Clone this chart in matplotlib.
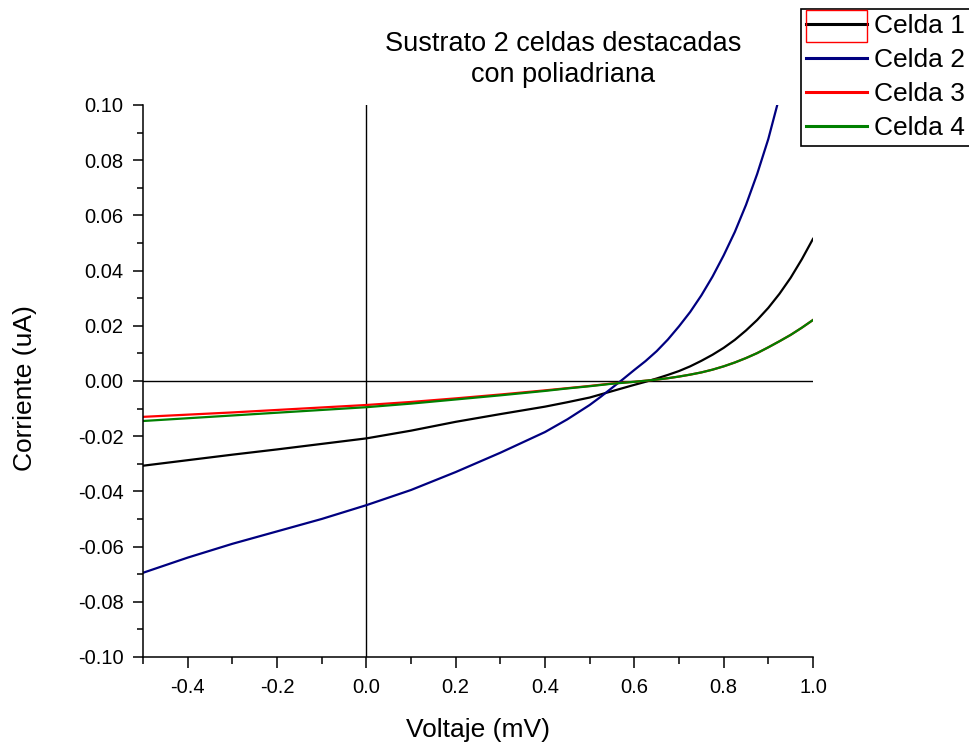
import matplotlib.pyplot as plt
from matplotlib.patches import Rectangle
from matplotlib.ticker import MultipleLocator, FuncFormatter

plt.rcParams['font.family'] = ['Liberation Sans', 'DejaVu Sans']

# voltaje (mV)
voltaje = [-0.5, -0.4, -0.3, -0.2, -0.1, 0.0, 0.1, 0.2, 0.3, 0.4, 0.45,
           0.5, 0.55, 0.6, 0.625, 0.65, 0.675, 0.7, 0.725, 0.75, 0.775,
           0.8, 0.825, 0.85, 0.875, 0.9, 0.925, 0.95, 0.975, 1.0]
voltaje_c2 = [-0.5, -0.4, -0.3, -0.2, -0.1, 0.0, 0.1, 0.2, 0.3, 0.4, 0.45,
              0.5, 0.525, 0.55, 0.575, 0.6, 0.625, 0.65, 0.675, 0.7, 0.725,
              0.75, 0.775, 0.8, 0.825, 0.85, 0.875, 0.9, 0.92]

# corriente (uA)
celda1 = [-0.0307, -0.0287, -0.0267, -0.0248, -0.0228, -0.0208, -0.0180,
          -0.0148, -0.0120, -0.0093, -0.0077, -0.0060, -0.0037, -0.0014,
          -0.0003, 0.0009, 0.0022, 0.0036, 0.0053, 0.0073, 0.0095, 0.0120,
          0.0149, 0.0183, 0.0221, 0.0265, 0.0316, 0.0374, 0.0441, 0.0515]
celda2 = [-0.0695, -0.0640, -0.0590, -0.0545, -0.0500, -0.0450, -0.0395,
          -0.0330, -0.0260, -0.0185, -0.0139, -0.0087, -0.0057, -0.0025,
          0.0007, 0.0040, 0.0072, 0.0108, 0.0150, 0.0198, 0.0250, 0.0310,
          0.0378, 0.0455, 0.0540, 0.0638, 0.0750, 0.0877, 0.1000]
celda3 = [-0.0130, -0.0122, -0.0114, -0.0105, -0.0096, -0.0087, -0.0076,
          -0.0063, -0.0049, -0.0034, -0.0026, -0.0018, -0.0009, -0.0003,
          0.0001, 0.0005, 0.0010, 0.0016, 0.0023, 0.0031, 0.0041, 0.0053,
          0.0067, 0.0083, 0.0101, 0.0122, 0.0144, 0.0167, 0.0193, 0.0221]
celda4 = [-0.0145, -0.0135, -0.0125, -0.0115, -0.0105, -0.0095, -0.0082,
          -0.0067, -0.0052, -0.0036, -0.0027, -0.0019, -0.0010, -0.0003,
          0.0001, 0.0005, 0.0010, 0.0016, 0.0023, 0.0031, 0.0041, 0.0053,
          0.0067, 0.0083, 0.0101, 0.0122, 0.0144, 0.0167, 0.0193, 0.0221]

fig = plt.figure(figsize=(9.69, 7.42), dpi=100)
ax = fig.add_axes([0.1476, 0.1146, 0.6914, 0.7439])

ax.axhline(0, color='black', lw=1.0, zorder=1)
ax.axvline(0, color='black', lw=1.0, zorder=1)

l1, = ax.plot(voltaje, celda1, color='black', lw=1.6, label='Celda 1')
l2, = ax.plot(voltaje_c2, celda2, color='#000080', lw=1.6, label='Celda 2')
l3, = ax.plot(voltaje, celda3, color='#ff0000', lw=1.6, label='Celda 3')
l4, = ax.plot(voltaje, celda4, color='#008000', lw=1.6, label='Celda 4')

ax.set_xlim(-0.5, 1.0)
ax.set_ylim(-0.1, 0.1)
ax.xaxis.set_major_locator(MultipleLocator(0.2))
ax.xaxis.set_minor_locator(MultipleLocator(0.1))
ax.yaxis.set_major_locator(MultipleLocator(0.02))
ax.yaxis.set_minor_locator(MultipleLocator(0.01))


def fmt(n):
    return FuncFormatter(lambda v, p: f'{0.0 if abs(v) < 1e-9 else v:.{n}f}')


ax.xaxis.set_major_formatter(fmt(1))
ax.yaxis.set_major_formatter(fmt(2))

for s in ['top', 'right']:
    ax.spines[s].set_visible(False)
for s in ['left', 'bottom']:
    ax.spines[s].set_linewidth(1.1)
ax.tick_params(axis='x', which='major', direction='out', length=8, width=1.1,
               labelsize=14.5, pad=7)
ax.tick_params(axis='x', which='minor', direction='out', length=5, width=1.1)
ax.tick_params(axis='y', which='major', direction='out', length=7, width=1.1,
               labelsize=14.5, pad=7)
ax.tick_params(axis='y', which='minor', direction='out', length=4, width=1.1)

ax.set_xlabel('Voltaje (mV)', fontsize=19)
ax.set_ylabel('Corriente (uA)', fontsize=19)
ax.xaxis.set_label_coords(0.5, -0.11)
ax.yaxis.set_label_coords(-0.158, 0.488)

fig.text(0.581, 1 - 44 / 742, 'Sustrato 2 celdas destacadas', fontsize=19.5,
         ha='center', va='center')
fig.text(0.581, 1 - 75 / 742, 'con poliadriana', fontsize=19.5,
         ha='center', va='center')

leg = fig.legend(handles=[l1, l2, l3, l4], loc='upper left',
                 bbox_to_anchor=(801 / 969, 1 - 9 / 742), fontsize=19,
                 frameon=True, fancybox=False, edgecolor='black',
                 framealpha=1, handlelength=2.3, handletextpad=0.25,
                 labelspacing=0.38, borderpad=0.2, borderaxespad=0)
leg.get_frame().set_linewidth(1.2)
for h in leg.get_lines():
    h.set_linewidth(2.2)

# marco rojo alrededor del primer elemento de la leyenda
fig.add_artist(Rectangle((806 / 969, 1 - 42 / 742), 61 / 969, 32 / 742,
                         transform=fig.transFigure, fill=False,
                         edgecolor='red', lw=1.0, zorder=10))

fig.savefig('out.png', dpi=100)
